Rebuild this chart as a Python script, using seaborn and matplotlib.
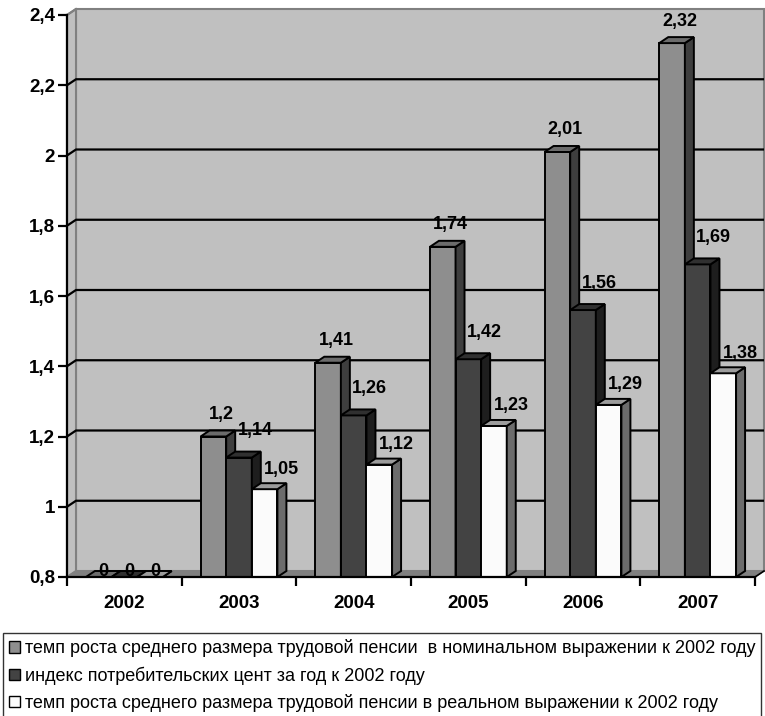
import matplotlib
matplotlib.use("Agg")
import matplotlib.pyplot as plt
from matplotlib.patches import Polygon, Rectangle
from matplotlib.ticker import FuncFormatter
import pandas as pd
import seaborn as sns


# --- Data --------------------------------------------------------------------
years = ["2002", "2003", "2004", "2005", "2006", "2007"]
series_names = [
    "темп роста среднего размера трудовой пенсии  в номинальном выражении к 2002 году",
    "индекс потребительских цент за год к 2002 году",
    "темп роста среднего размера трудовой пенсии в реальном выражении к 2002 году",
]
nominal_growth = [0, 1.2, 1.41, 1.74, 2.01, 2.32]
cpi_index = [0, 1.14, 1.26, 1.42, 1.56, 1.69]
real_growth = [0, 1.05, 1.12, 1.23, 1.29, 1.38]
y_ticks = [0.8, 1.0, 1.2, 1.4, 1.6, 1.8, 2.0, 2.2, 2.4]

df = pd.DataFrame({
    "year": years * 3,
    "value": nominal_growth + cpi_index + real_growth,
    "series": [series_names[0]] * 6 + [series_names[1]] * 6 + [series_names[2]] * 6,
})

# --- Style -------------------------------------------------------------------
plt.rcParams["font.family"] = ["Liberation Sans", "DejaVu Sans"]

front_colors = ["#8e8e8e", "#434343", "#fbfbfb"]
top_colors = ["#6c6c6c", "#303030", "#9c9c9c"]
side_colors = ["#3e3e3e", "#1e1e1e", "#6c6c6c"]
wall_color = "#c0c0c0"
floor_color = "#808080"

# label offsets (pixels) per series
label_dx = [8, 16, 17]
label_dy = [22, 27, 20]

W, H, DPI = 765, 716, 100
fig = plt.figure(figsize=(W / DPI, H / DPI), dpi=DPI)
ax_l, ax_b = 67 / W, (H - 577) / H
ax_w, ax_h = (755 - 67) / W, (577 - 15) / H
ax = fig.add_axes([ax_l, ax_b, ax_w, ax_h])
ax.set_facecolor("none")

y0, y1 = y_ticks[0], y_ticks[-1]
x0, x1 = -0.5, len(years) - 0.5

# depth offset for the fake 3D look, in data units
dxd = 9 / (ax_w * W / (x1 - x0))
dyd = 6 / (ax_h * H / (y1 - y0))

# --- Walls and floor ---------------------------------------------------------
ax.add_patch(Polygon([(x0 + dxd, y0 + dyd), (x1 + dxd, y0 + dyd),
                      (x1 + dxd, y1 + dyd), (x0 + dxd, y1 + dyd)],
                     closed=True, fc=wall_color, ec="#808080", lw=1.5,
                     zorder=0.1, clip_on=False))
ax.add_patch(Polygon([(x0, y0), (x0, y1), (x0 + dxd, y1 + dyd), (x0 + dxd, y0 + dyd)],
                     closed=True, fc=wall_color, ec="#808080", lw=1.5,
                     zorder=0.2, clip_on=False))
ax.add_patch(Polygon([(x0, y0), (x1, y0), (x1 + dxd, y0 + dyd), (x0 + dxd, y0 + dyd)],
                     closed=True, fc=floor_color, ec=floor_color, lw=1,
                     zorder=0.3, clip_on=False))
for yv in y_ticks[1:-1]:
    ax.plot([x0, x0 + dxd, x1 + dxd], [yv, yv + dyd, yv + dyd], color="black",
            lw=1.6, zorder=0.4, clip_on=False, solid_capstyle="butt")
ax.plot([x1, x1 + dxd], [y0, y0 + dyd], color="black", lw=1.2, clip_on=False, zorder=0.4)
ax.plot([x0, x0 + dxd], [y1, y1 + dyd], color="#808080", lw=1.5, clip_on=False, zorder=0.4)

# --- Bars --------------------------------------------------------------------
sns.barplot(data=df, x="year", y="value", hue="series", hue_order=series_names,
            order=years, palette=front_colors, width=0.67, edgecolor="black",
            linewidth=1.4, legend=False, ax=ax)

for s, container in enumerate(ax.containers):
    for j, bar in enumerate(container):
        val = bar.get_height()
        bx, bw = bar.get_x(), bar.get_width()
        top = max(val, y0)
        z = 1 + (j * 3 + s) * 0.1
        bar.set_zorder(z)
        # side face
        ax.add_patch(Polygon([(bx + bw, y0), (bx + bw, top), (bx + bw + dxd, top + dyd),
                              (bx + bw + dxd, y0 + dyd)], closed=True,
                             fc=side_colors[s], ec="black", lw=1.4,
                             zorder=z + 0.01, clip_on=False))
        # top face
        ax.add_patch(Polygon([(bx, top), (bx + bw, top), (bx + bw + dxd, top + dyd),
                              (bx + dxd, top + dyd)], closed=True,
                             fc=top_colors[s], ec="black", lw=1.4,
                             zorder=z + 0.02, clip_on=False))
        label = f"{val:g}".replace(".", ",")
        if val >= y0:
            ax.annotate(label, (bx + bw / 2, val), xytext=(label_dx[s], label_dy[s]),
                        textcoords="offset pixels", ha="center", va="center",
                        fontsize=13, fontweight="bold", zorder=5, annotation_clip=False)
        else:
            ax.annotate(label, (bx + bw / 2, y0), xytext=(5, 6),
                        textcoords="offset pixels", ha="center", va="center",
                        fontsize=13, fontweight="bold", zorder=5, annotation_clip=False)

# --- Axes --------------------------------------------------------------------
ax.set_xlim(x0, x1)
ax.set_ylim(y0, y1)
ax.set_xlabel("")
ax.set_ylabel("")
for side in ["top", "right"]:
    ax.spines[side].set_visible(False)
for side in ["left", "bottom"]:
    ax.spines[side].set_linewidth(1.6)
    ax.spines[side].set_zorder(4)

ax.set_yticks(y_ticks)
ax.yaxis.set_major_formatter(FuncFormatter(lambda v, p: f"{v:g}".replace(".", ",")))
ax.tick_params(axis="y", length=6.5, width=1.6, pad=2, labelsize=13.5)
for lab in ax.get_yticklabels():
    lab.set_fontweight("bold")

ax.set_xticks([i - 0.5 for i in range(len(years) + 1)])
ax.set_xticklabels([])
ax.set_xticks(range(len(years)), minor=True)
ax.set_xticklabels(years, minor=True, fontsize=13.5, fontweight="bold")
ax.tick_params(axis="x", which="major", length=6.5, width=1.6)
ax.tick_params(axis="x", which="minor", length=0, pad=13)

# --- Legend ------------------------------------------------------------------
handles = [Rectangle((0, 0), 1, 1, fc=c, ec="black", lw=1) for c in front_colors]
leg = fig.legend(handles, series_names, loc="upper left",
                 bbox_to_anchor=(3 / W, 1 - 633 / H), frameon=True, fancybox=False,
                 fontsize=13, handlelength=0.6, handleheight=0.6, handletextpad=0.25,
                 labelspacing=0.5, borderpad=0.35, borderaxespad=0)
leg.get_frame().set_edgecolor("black")
leg.get_frame().set_linewidth(1)

fig.savefig("out.png", dpi=DPI)
